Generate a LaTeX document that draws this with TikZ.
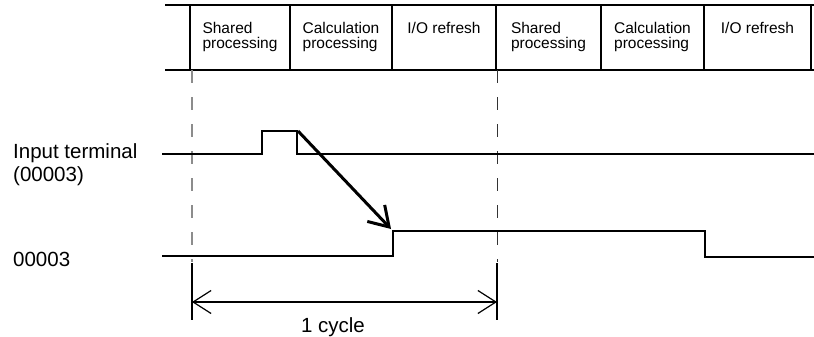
\documentclass[tikz,border=0pt]{standalone}
\usepackage{fontspec}
\setmainfont{Liberation Sans}
\usetikzlibrary{arrows.meta}
\begin{document}
\begin{tikzpicture}[x=1pt,y=-1pt,
  hdr/.style={font=\fontsize{15.5}{15}\selectfont, align=left, anchor=north, inner sep=0pt},
  lbl/.style={font=\fontsize{20.5}{23}\selectfont, align=left, inner sep=0pt},
  frame/.style={line width=1.4pt, draw=black},
  sig/.style={line width=1.3pt, draw=black, line join=miter},
  guide/.style={line width=1.2pt, dash pattern=on 13pt off 14pt},
  barb/.style={-{Straight Barb[length=19pt,width=24pt]}},
  dim/.style={line width=1.2pt, {Straight Barb[length=18pt,width=23pt]}-{Straight Barb[length=18pt,width=23pt]}}
]
\useasboundingbox (0,0) rectangle (814,337);

% header table
\draw[frame] (165,5) -- (814,5);
\draw[frame] (165,70) -- (814,70);
\foreach \xx in {190,290,392,496,601,704,811}
  \draw[frame] (\xx,5) -- (\xx,70);

\node[hdr] (h1) at (240,21) {\rule{0pt}{12pt}Shared\\processing};
\node[hdr] (h2) at (341,21) {\rule{0pt}{12pt}Calculation\\processing};
\node[hdr] (h3) at (444,21) {\rule{0pt}{12pt}I/O refresh};
\node[hdr] (h4) at (548.5,21) {\rule{0pt}{12pt}Shared\\processing};
\node[hdr] (h5) at (652.5,21) {\rule{0pt}{12pt}Calculation\\processing};
\node[hdr] (h6) at (757.5,21) {\rule{0pt}{12pt}I/O refresh};

% guide lines
\draw[guide, draw=black!45] (192,70) -- (192,262);
\draw[line width=1.2pt] (192,263) -- (192,320);
\draw[guide, draw=black!80, line width=1pt] (497,70) -- (497,262);
\draw[line width=1.2pt] (497,263) -- (497,320);

% labels
\node[lbl, anchor=north west] (lin) at (13,142) {\rule{0pt}{16pt}Input terminal\\(00003)};
\node[lbl, anchor=base west] (lout) at (13,266) {00003};

% signals
\coordinate (pr) at (262,131);
\coordinate (pf) at (298,131);
\coordinate (orise) at (393,231);
\draw[sig] (162,154) -- (262,154) -- (pr) -- (297,131) -- (297,154) -- (814,154);
\draw[sig] (162,256) -- (393,256) -- (orise) -- (705,231) -- (705,257) -- (814,257);

% causal arrow
\draw[line width=3pt, barb] (pf) -- (391,229);

% cycle dimension
\coordinate (cl) at (192,302);
\coordinate (cr) at (497,302);
\draw[dim] (cl) -- (cr);
\node[lbl, anchor=base] (cyc) at (333,332) {1 cycle};
\end{tikzpicture}
\end{document}
